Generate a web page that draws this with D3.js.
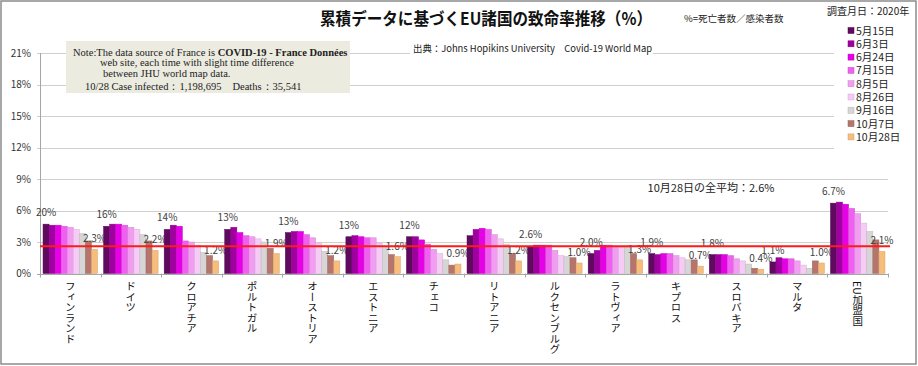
<!DOCTYPE html>
<html>
<head>
<meta charset="utf-8">
<script src="https://cdn.jsdelivr.net/npm/d3@7"></script>
<style>
  body { margin: 0; background: #fff; }
  text { font-family: "Noto Sans CJK JP", "Noto Sans", sans-serif; }
</style>
</head>
<body>
<div id="chart"></div>
<script>
// countries (x categories)
var countries = ['フィンランド', 'ドイツ', 'クロアチア', 'ポルトガル', 'オーストリア', 'エストニア', 'チェコ',
  'リトアニア', 'ルクセンブルグ', 'ラトヴィア', 'キプロス', 'スロバキア', 'マルタ', 'EU加盟国'];

// survey dates (series)
var dates = ['5月15日', '6月3日', '6月24日', '7月15日', '8月5日', '8月26日', '9月16日', '10月7日', '10月28日'];

// fatality rate (%) per survey date, one value per country
var may15 = [4.7, 4.5, 4.2, 4.2, 3.9, 3.5, 3.5, 3.6, 2.6, 1.9, 1.9, 1.8, 1.1, 6.7];
var jun3  = [4.6, 4.7, 4.6, 4.4, 4.0, 3.6, 3.5, 4.2, 2.7, 2.2, 1.8, 1.8, 1.5, 6.8];
var jun24 = [4.6, 4.7, 4.5, 3.9, 4.0, 3.5, 3.2, 4.3, 2.7, 2.7, 1.9, 1.8, 1.4, 6.6];
var jul15 = [4.5, 4.6, 3.1, 3.6, 3.7, 3.4, 2.8, 4.2, 2.7, 2.7, 1.9, 1.7, 1.4, 6.2];
var aug5  = [4.4, 4.4, 3.0, 3.5, 3.4, 3.4, 2.3, 3.7, 2.2, 2.6, 1.7, 1.4, 1.2, 5.7];
var aug26 = [4.2, 4.2, 2.7, 3.3, 2.9, 2.9, 1.9, 3.3, 1.7, 2.5, 1.5, 1.2, 0.8, 4.8];
var sep16 = [3.8, 3.7, 2.0, 3.0, 2.1, 2.6, 1.3, 2.8, 1.6, 2.5, 1.3, 0.9, 0.5, 4.0];
var oct7  = [3.1, 3.1, 1.7, 2.4, 1.7, 1.8, 0.8, 1.9, 1.5, 1.9, 1.3, 0.5, 1.2, 3.2];
var oct28 = [2.3, 2.2, 1.2, 1.9, 1.2, 1.6, 0.9, 1.2, 1.0, 1.3, 0.7, 0.4, 1.0, 2.1];

// data label texts shown on the first and last bar of each group
var firstLabels = ['20%', '16%', '14%', '13%', '13%', '13%', '12%', '', '2.6%', '2.0%', '1.9%', '1.8%', '1.1%', '6.7%'];
var lastLabels  = ['2.3%', '2.2%', '1.2%', '1.9%', '1.2%', '1.6%', '0.9%', '1.2%', '1.0%', '1.3%', '0.7%', '0.4%', '1.0%', '2.1%'];

var yTicks = [0, 3, 6, 9, 12, 15, 18, 21];
var average = 2.6;

var colors = ['#5f0a5f', '#a000a0', '#e600e6', '#f060f0', '#f29cf2', '#f6cbf6', '#d6d6d6', '#b5756c', '#f7bd7c'];

var series = [may15, jun3, jun24, jul15, aug5, aug26, sep16, oct7, oct28];

var W = 918, H = 366;

var svg = d3.select('#chart')
  .append('svg')
    .attr('width', W)
    .attr('height', H);

svg.append('rect')
  .attr('x', 1).attr('y', 1)
  .attr('width', W - 3).attr('height', H - 3)
  .attr('fill', '#fff')
  .attr('stroke', '#8c8c8c')
  .attr('stroke-width', 1.5);

var x = d3.scaleBand()
  .domain(countries)
  .range([40, 888])
  .paddingInner(0.1)
  .paddingOuter(0.05);

var xs = d3.scaleBand()
  .domain(d3.range(dates.length))
  .range([0, x.bandwidth()]);

var y = d3.scaleLinear()
  .domain([0, 21])
  .range([273.5, 53]);

// gridlines + y labels
svg.append('g')
  .selectAll('line')
  .data(yTicks)
  .enter()
    .append('line')
      .attr('x1', 37).attr('x2', 888)
      .attr('y1', function(d) { return Math.round(y(d)) + 0.5; })
      .attr('y2', function(d) { return Math.round(y(d)) + 0.5; })
      .attr('stroke', function(d) { return d === 0 ? '#a6a6a6' : '#cfcfcf'; });

svg.append('g')
  .selectAll('text')
  .data(yTicks)
  .enter()
    .append('text')
      .attr('x', 31)
      .attr('y', function(d) { return y(d) + 3.5; })
      .attr('text-anchor', 'end')
      .attr('font-size', 10)
      .attr('fill', '#333')
      .text(function(d) { return d + '%'; });

svg.append('line')
  .attr('x1', 40.5).attr('x2', 40.5)
  .attr('y1', y(21)).attr('y2', y(0) + 3)
  .attr('stroke', '#a6a6a6');

// category boundary ticks
svg.append('g')
  .selectAll('line')
  .data(d3.range(countries.length + 1))
  .enter()
    .append('line')
      .attr('x1', function(i) { return Math.round(40 + i * x.step()) + 0.5; })
      .attr('x2', function(i) { return Math.round(40 + i * x.step()) + 0.5; })
      .attr('y1', y(0)).attr('y2', y(0) + 4)
      .attr('stroke', '#a6a6a6');

// white boxes behind legend and source text
svg.append('rect')
  .attr('x', 834).attr('y', 24).attr('width', 80).attr('height', 132)
  .attr('fill', '#fff');
svg.append('rect')
  .attr('x', 410).attr('y', 42).attr('width', 243).attr('height', 14)
  .attr('fill', '#fff');

// bars
var groups = svg.append('g')
  .selectAll('g')
  .data(countries)
  .enter()
    .append('g')
      .attr('transform', function(d) { return 'translate(' + x(d) + ',0)'; });

groups.selectAll('rect')
  .data(function(d, ci) { return series.map(function(s, si) { return { si: si, v: s[ci] }; }); })
  .enter()
    .append('rect')
      .attr('x', function(d) { return xs(d.si); })
      .attr('y', function(d) { return y(d.v); })
      .attr('width', xs.bandwidth())
      .attr('height', function(d) { return y(0) - y(d.v); })
      .attr('fill', function(d) { return colors[d.si]; })
      .attr('stroke', function(d) { return d3.color(colors[d.si]).darker(0.4); })
      .attr('stroke-width', 0.5);

// average line
svg.append('line')
  .attr('x1', 40).attr('x2', 890)
  .attr('y1', y(average)).attr('y2', y(average))
  .attr('stroke', '#ff1a1a')
  .attr('stroke-width', 2);

svg.append('text')
  .attr('x', 711).attr('y', 192)
  .attr('text-anchor', 'middle')
  .attr('font-size', 11)
  .attr('fill', '#222')
  .text('10月28日の全平均：2.6%');

// data labels
groups.append('text')
  .attr('x', xs(0) + xs.bandwidth() / 2)
  .attr('y', function(d, i) { return y(may15[i]) - 8; })
  .attr('text-anchor', 'middle')
  .attr('font-size', 10)
  .attr('fill', '#404040')
  .text(function(d, i) { return firstLabels[i]; });

groups.append('text')
  .attr('x', xs(8) + xs.bandwidth() / 2)
  .attr('y', function(d, i) { return y(oct28[i]) - 7; })
  .attr('text-anchor', 'middle')
  .attr('font-size', 10)
  .attr('fill', '#404040')
  .text(function(d, i) { return lastLabels[i]; });

// x labels, vertical
svg.append('g')
  .selectAll('text')
  .data(countries)
  .enter()
    .append('text')
      .attr('x', function(d) { return x(d) + x.bandwidth() / 2; })
      .attr('y', 281)
      .style('writing-mode', 'vertical-rl')
      .attr('font-size', 10.5)
      .attr('fill', '#111')
      .text(function(d) { return d; });

// titles
svg.append('text')
  .attr('x', 320).attr('y', 25)
  .attr('font-size', 17)
  .attr('font-weight', 'bold')
  .attr('fill', '#111')
  .attr('textLength', 332)
  .attr('lengthAdjust', 'spacingAndGlyphs')
  .text('累積データに基づくEU諸国の致命率推移（%）');

svg.append('text')
  .attr('x', 684).attr('y', 22)
  .attr('font-size', 9.5)
  .attr('fill', '#222')
  .text('%=死亡者数／感染者数');

svg.append('text')
  .attr('x', 827).attr('y', 15)
  .attr('font-size', 10)
  .attr('fill', '#222')
  .text('調査月日：2020年');

svg.append('text')
  .attr('x', 413).attr('y', 52)
  .attr('font-size', 9.5)
  .attr('fill', '#222')
  .attr('textLength', 239)
  .attr('lengthAdjust', 'spacingAndGlyphs')
  .text('出典：Johns Hopikins University　Covid-19 World Map');

// legend
var legend = svg.append('g')
  .selectAll('g')
  .data(dates)
  .enter()
    .append('g')
      .attr('transform', function(d, i) { return 'translate(848,' + (31.5 + i * 13.3) + ')'; });

legend.append('rect')
  .attr('x', 0).attr('y', -4)
  .attr('width', 6).attr('height', 6)
  .attr('fill', function(d, i) { return colors[i]; })
  .attr('stroke', function(d, i) { return d3.color(colors[i]).darker(0.5); })
  .attr('stroke-width', 0.5);

legend.append('text')
  .attr('x', 8).attr('y', 3)
  .attr('font-size', 10.5)
  .attr('fill', '#222')
  .text(function(d) { return d; });

// note box
svg.append('rect')
  .attr('x', 66).attr('y', 41)
  .attr('width', 284).attr('height', 52)
  .attr('fill', '#ecebe0');

var note = svg.append('g')
  .attr('font-size', 10.5)
  .attr('fill', '#222');

var l1 = note.append('text').attr('x', 73).attr('y', 56)
  .style('font-family', '"Liberation Serif", serif');
l1.append('tspan').text('Note:The data source of France is ');
l1.append('tspan').attr('font-weight', 'bold').text('COVID-19 - France Données');

note.append('text').attr('x', 100).attr('y', 66)
  .style('font-family', '"Liberation Serif", serif')
  .text('web site, each time with slight time difference');
note.append('text').attr('x', 103).attr('y', 77)
  .style('font-family', '"Liberation Serif", serif')
  .text('between JHU world map data.');
note.append('text').attr('x', 85).attr('y', 90)
  .style('font-family', '"Liberation Serif", serif')
  .text('10/28 Case infected：1,198,695　Deaths：35,541');
</script>
</body>
</html>
